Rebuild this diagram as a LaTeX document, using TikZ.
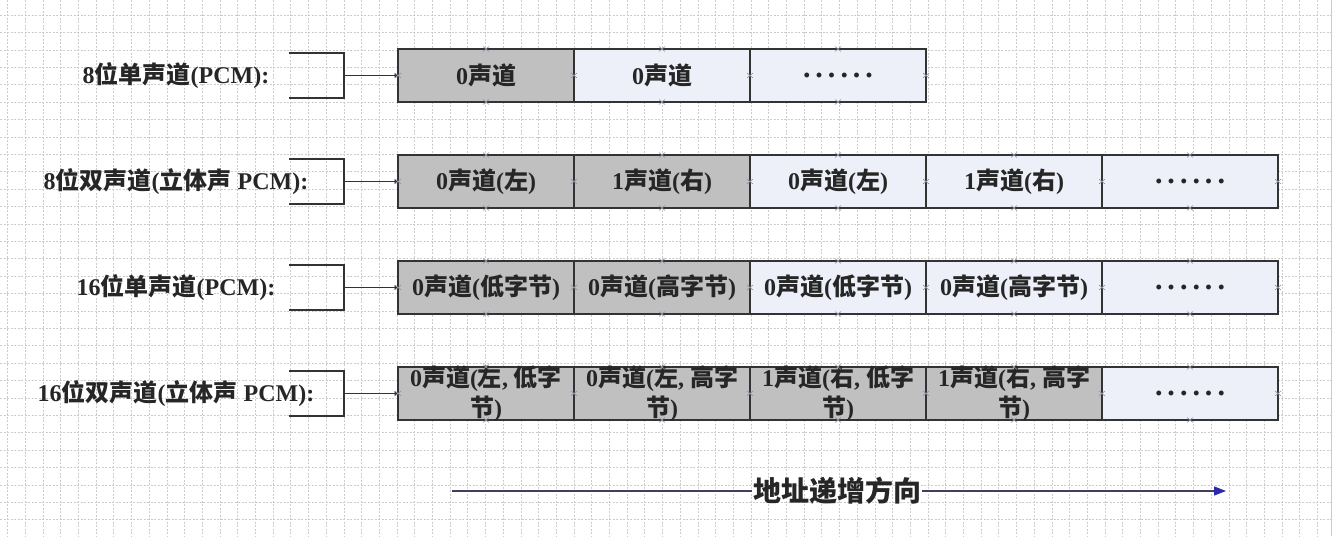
\documentclass[tikz,border=0pt]{standalone}
\usepackage{fontspec}
\setmainfont{Liberation Serif}
\newfontfamily\zhfont{Noto Sans CJK SC}
\newcommand\zh[1]{{\zhfont #1}}
\newcommand\sixdots{{\fontsize{30}{30}\selectfont.\hspace{5pt}.\hspace{5pt}.\hspace{5pt}.\hspace{5pt}.\hspace{5pt}.}}
\usetikzlibrary{arrows.meta}
\definecolor{cellgray}{HTML}{C0C0C0}
\definecolor{celllight}{HTML}{EEF0F9}
\definecolor{gridc}{HTML}{CCCCCC}
\definecolor{edgec}{HTML}{333333}
\definecolor{axisc}{HTML}{3F3F5F}
\definecolor{tipc}{HTML}{2B2BA8}
\definecolor{markc}{HTML}{9090AA}
\newcommand\connmark[2]{\draw[markc, line width=0.6pt] (#1,#2) ++(-3,-2.5) -- ++(6,5) ++(-6,0) -- ++(6,-5);}
\begin{document}
\begin{tikzpicture}[x=1pt,y=-1pt,
  celltext/.style={align=center, text=black!85, font=\fontsize{24}{30}\selectfont\bfseries},
  cell/.style={celltext, draw=edgec, line width=1.6pt, minimum width=176pt, minimum height=53pt,
    inner sep=0pt, outer sep=0pt, anchor=north west},
  gcell/.style={cell, fill=cellgray},
  lcell/.style={cell, fill=celllight},
  lbl/.style={font=\fontsize{24}{30}\selectfont\bfseries, text=black!85, inner sep=0pt},
  brk/.style={draw=edgec, line width=1.5pt},
  conn/.style={draw=edgec, line width=1.5pt, -{Stealth[length=4pt,width=4pt]}},
  gridln/.style={draw=gridc, line width=0.6pt, dash pattern=on 2pt off 1.5pt},
  axisln/.style={draw=axisc, line width=1.3pt},
  axislbl/.style={font=\fontsize{28}{30}\selectfont\bfseries, text=black!85, inner sep=1pt}
]
\useasboundingbox (0,0) rectangle (1334,536);
\fill[white] (0,0) rectangle (1334,536);
% background grid
\foreach \i in {0,...,75} \draw[gridln] (7.5+\i*17.7,0) -- ++(0,536);
\foreach \j in {0,...,30} \draw[gridln] (0,15+\j*17.4) -- ++(1334,0);
\draw[gridc, line width=1pt] (1331,0) -- (1331,536);

% row labels
\node[lbl] (l1) at (176,75.5) {8\zh{位单声道}(PCM):};
\node[lbl] (l2) at (176,181.5) {8\zh{位双声道}(\zh{立体声} PCM):};
\node[lbl] (l3) at (176,287.5) {16\zh{位单声道}(PCM):};
\node[lbl] (l4) at (176,393.5) {16\zh{位双声道}(\zh{立体声} PCM):};

% brackets
\foreach \t/\k in {49/1,155/2,261/3,367/4}{
  \draw[brk] (289,\t+4) -- (344,\t+4) -- (344,\t+49) -- (289,\t+49);
  \coordinate (bk\k) at (344,\t+26.5);
}

% row 1
\node[gcell] (r1c1) at (398,49) {0\zh{声道}};
\node[lcell] (r1c2) at (574,49) {0\zh{声道}};
\node[lcell] (r1c3) at (750,49) {\sixdots};
% row 2
\node[gcell] (r2c1) at (398,155) {0\zh{声道}(\zh{左})};
\node[gcell] (r2c2) at (574,155) {1\zh{声道}(\zh{右})};
\node[lcell] (r2c3) at (750,155) {0\zh{声道}(\zh{左})};
\node[lcell] (r2c4) at (926,155) {1\zh{声道}(\zh{右})};
\node[lcell] (r2c5) at (1102,155) {\sixdots};
% row 3
\node[gcell] (r3c1) at (398,261) {0\zh{声道}(\zh{低字节})};
\node[gcell] (r3c2) at (574,261) {0\zh{声道}(\zh{高字节})};
\node[lcell] (r3c3) at (750,261) {0\zh{声道}(\zh{低字节})};
\node[lcell] (r3c4) at (926,261) {0\zh{声道}(\zh{高字节})};
\node[lcell] (r3c5) at (1102,261) {\sixdots};
% row 4 (two-line text overflows the fixed cell height)
\node[gcell] (r4c1) at (398,367) {};
\node[gcell] (r4c2) at (574,367) {};
\node[gcell] (r4c3) at (750,367) {};
\node[gcell] (r4c4) at (926,367) {};
\node[lcell] (r4c5) at (1102,367) {\sixdots};
\node[celltext, inner sep=0pt] (r4t1) at (r4c1.center) {0\zh{声道}(\zh{左}, \zh{低字}\\\zh{节})};
\node[celltext, inner sep=0pt] (r4t2) at (r4c2.center) {0\zh{声道}(\zh{左}, \zh{高字}\\\zh{节})};
\node[celltext, inner sep=0pt] (r4t3) at (r4c3.center) {1\zh{声道}(\zh{右}, \zh{低字}\\\zh{节})};
\node[celltext, inner sep=0pt] (r4t4) at (r4c4.center) {1\zh{声道}(\zh{右}, \zh{高字}\\\zh{节})};

% connectors from brackets
\foreach \k in {1,2,3,4} \draw[conn] (bk\k) -- (r\k c1.west);

% connection point marks
\foreach \cx in {486,662,838} {\connmark{\cx}{49}\connmark{\cx}{102}}
\foreach \bx in {398,574,750,926} {\connmark{\bx}{75.5}}
\foreach \t in {155,261,367}{
  \foreach \cx in {486,662,838,1014,1190} {\connmark{\cx}{\t}\connmark{\cx}{\t+53}}
  \foreach \bx in {398,574,750,926,1102,1278} {\connmark{\bx}{\t+26.5}}
}

% address direction
\node[axislbl] (ax) at (837,491) {\zh{地址递增方向}};
\coordinate (axs) at (452,491);
\coordinate (axe) at (1226,491);
\draw[axisln] (axs) -- (ax.west);
\draw[axisln, -{Triangle[length=12pt,width=9pt,color=tipc]}] (ax.east) -- (axe);
\end{tikzpicture}
\end{document}
